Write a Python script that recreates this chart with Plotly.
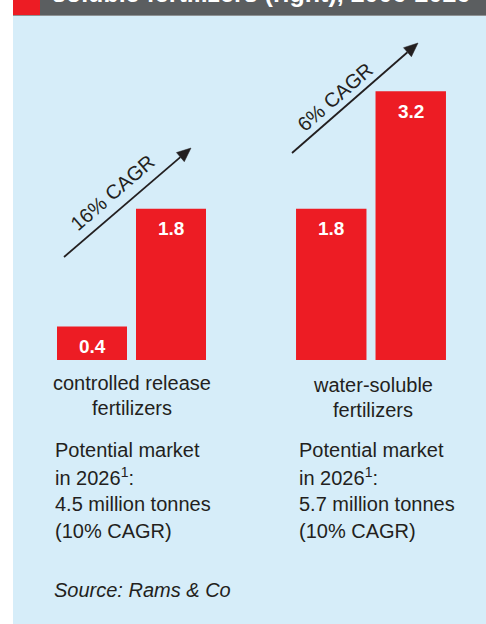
import math
import plotly.graph_objects as go

# Market size, million tonnes
years = ["2006", "2026"]
controlled_release = [0.4, 1.8]
water_soluble = [1.8, 3.2]

group_names = [["controlled release", "fertilizers"], ["water-soluble", "fertilizers"]]
growth_labels = ["16% CAGR", "6% CAGR"]
potential_2026 = [4.5, 5.7]
potential_cagr = [10, 10]
banner_text = "soluble fertilizers (right), 2006-2026"
source_text = "Source: Rams & Co"

W, H = 486, 624
RED = "#ED1C24"
PANEL = "#D6EDF9"
BANNER = "#5B5E60"
INK = "#231F20"
FONT = "Liberation Sans, Arial, sans-serif"


def px(x):
    return x / W


def py(y):
    return 1 - y / H


fig = go.Figure()
ann = []

for vals, xa in ((controlled_release, "x"), (water_soluble, "x2")):
    fig.add_trace(go.Bar(
        x=years, y=vals, xaxis=xa, yaxis="y", width=1 - 9 / 79,
        marker=dict(color=RED, line=dict(width=0)),
        showlegend=False, hoverinfo="skip",
    ))
    # value printed inside each bar, just under its top
    # (category index used for x, since the year labels look numeric)
    for i, v in enumerate(vals):
        ann.append(dict(
            x=i, y=v, xref=xa, yref="y", text=f"{v}",
            showarrow=False, yanchor="middle", yshift=-20,
            font=dict(family=FONT, size=19, color="white", weight="bold"),
        ))

shapes = [
    # light blue panel
    dict(type="rect", xref="paper", yref="paper", x0=px(13), x1=1, y0=0, y1=py(16),
         fillcolor=PANEL, line=dict(width=0), layer="below"),
    # dark title banner
    dict(type="rect", xref="paper", yref="paper", x0=px(13), x1=1, y0=py(15), y1=1.02,
         fillcolor=BANNER, line=dict(width=0), layer="below"),
    dict(type="line", xref="paper", yref="paper", x0=px(13), x1=1, y0=py(15.5), y1=py(15.5),
         line=dict(color="#8E9294", width=1), layer="below"),
    # red tab
    dict(type="rect", xref="paper", yref="paper", x0=px(13), x1=px(40), y0=py(15), y1=1.02,
         fillcolor=RED, line=dict(width=0), layer="below"),
]

# clipped last line of the title
ann.append(dict(x=px(50), y=1, yshift=7, xref="paper", yref="paper", text=banner_text,
                showarrow=False, xanchor="left", yanchor="middle",
                font=dict(family=FONT, size=25, color="white", weight="bold")))

# growth arrows (line + triangular head) with rotated CAGR labels
arrows = [((64, 257), (191, 148), (112, 193)), ((292, 153), (418, 43), (335, 97))]
HEAD_L, HEAD_W = 14, 12
for (tail, tip, lab), g in zip(arrows, growth_labels):
    dx, dy = tip[0] - tail[0], tip[1] - tail[1]
    n = math.hypot(dx, dy)
    ux, uy = dx / n, dy / n
    bx, by = tip[0] - ux * HEAD_L, tip[1] - uy * HEAD_L
    nx, ny = -uy, ux
    shapes.append(dict(type="line", xref="paper", yref="paper",
                       x0=px(tail[0]), y0=py(tail[1]), x1=px(bx), y1=py(by),
                       line=dict(color=INK, width=1.8)))
    p1 = (bx + nx * HEAD_W / 2, by + ny * HEAD_W / 2)
    p2 = (bx - nx * HEAD_W / 2, by - ny * HEAD_W / 2)
    path = (f"M {px(tip[0])} {py(tip[1])} L {px(p1[0])} {py(p1[1])} "
            f"L {px(p2[0])} {py(p2[1])} Z")
    shapes.append(dict(type="path", xref="paper", yref="paper", path=path,
                       fillcolor=INK, line=dict(color=INK, width=0.5)))
    ann.append(dict(x=px(lab[0]), y=py(lab[1]), xref="paper", yref="paper", text=g,
                    showarrow=False, textangle=-41, xanchor="center", yanchor="middle",
                    font=dict(family=FONT, size=20, color=INK)))


def text_line(txt, x, y_mid, anchor="left", italic=False):
    if italic:
        txt = f"<i>{txt}</i>"
    return dict(x=px(x), y=py(y_mid), xref="paper", yref="paper", text=txt,
                showarrow=False, xanchor=anchor, yanchor="middle",
                font=dict(family=FONT, size=20, color=INK))


# group captions, centred under each pair of bars
for lines, cx, mid in zip(group_names, (132, 373), (383, 385)):
    for k, line in enumerate(lines):
        ann.append(text_line(line, cx, mid + 25 * k, anchor="center"))

# 2026 potential blocks
for pot, cagr, lx in zip(potential_2026, potential_cagr, (53, 297)):
    lines = ["Potential market", "in 2026<sup>1</sup>:",
             f"{pot} million tonnes", f"({cagr}% CAGR)"]
    for k, line in enumerate(lines):
        ann.append(text_line(line, lx, 450 + 27 * k))

ann.append(text_line(source_text, 52, 590, italic=True))

fig.update_layout(
    width=W, height=H,
    margin=dict(l=0, r=0, t=0, b=0),
    paper_bgcolor="white", plot_bgcolor="rgba(0,0,0,0)",
    xaxis=dict(domain=[px(52.5), px(210.5)], type="category", range=[-0.5, 1.5],
               categoryorder="array", categoryarray=years,
               visible=False, fixedrange=True),
    xaxis2=dict(domain=[px(291.5), px(450.5)], type="category", range=[-0.5, 1.5],
                categoryorder="array", categoryarray=years,
                visible=False, anchor="y", fixedrange=True),
    yaxis=dict(domain=[py(360), py(24)], range=[0, 4], visible=False, fixedrange=True),
    shapes=shapes, annotations=ann,
)

fig.write_html("out.html", config=dict(displayModeBar=False))
